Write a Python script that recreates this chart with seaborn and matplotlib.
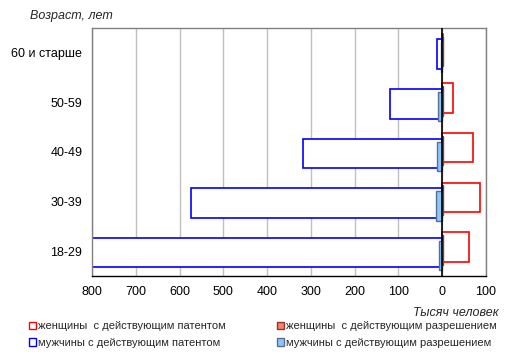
import matplotlib
matplotlib.use("Agg")
import matplotlib.pyplot as plt
from matplotlib.patches import Patch
import seaborn as sns
import pandas as pd
import numpy as np

categories = ['60 и старше', '50-59', '40-49', '30-39', '18-29']
women_patent = [2, 25, 71, 87, 62]
women_permit = [2, 2, 2, 2, 2]
men_patent = [12, 119, 318, 574, 830]
men_permit = [3, 10, 11, 15, 7]
x_ticks = [-800, -700, -600, -500, -400, -300, -200, -100, 0, 100]
x_tick_labels = ['800', '700', '600', '500', '400', '300', '200', '100', '0', '100']

labels = ['женщины  с действующим патентом', 'женщины  с действующим разрешением',
          'мужчины с действующим патентом', 'мужчины с действующим разрешением']

sns.set_theme(style="white")
plt.rcParams['font.family'] = ['Liberation Sans', 'DejaVu Sans']

fig = plt.figure(figsize=(5.12, 3.55), dpi=100)
ax = fig.add_axes([92/512, 1-276/355, (486-92)/512, (276-28)/355])

series = [
    (women_patent, 1, 'white', '#FF0000', 1.2, -0.087),
    (women_permit, 1, '#FF7F6F', '#8B3A2A', 1.0, -0.029),
    (men_patent, -1, 'white', '#0000FF', 1.2, 0.029),
    (men_permit, -1, '#8CC6FA', '#5A6E8F', 1.0, 0.087),
]
idx = np.arange(len(categories))
for vals, sign, fc, ec, lw, off in series:
    df = pd.DataFrame({'pos': idx + off, 'val': sign * np.array(vals, dtype=float)})
    sns.barplot(data=df, x='val', y='pos', orient='h', native_scale=True,
                width=0.595, color=fc, edgecolor=ec, linewidth=lw,
                saturation=1, errorbar=None, ax=ax)
    for p in ax.patches[-len(vals):]:
        p.set_facecolor(fc)
        p.set_edgecolor(ec)

ax.set_xlim(-800, 100)
ax.set_ylim(4.5, -0.5)
ax.set_xticks(x_ticks)
ax.set_xticklabels(x_tick_labels, fontsize=9)
ax.set_yticks(idx)
ax.set_yticklabels(categories, fontsize=9)
ax.tick_params(axis='both', length=0, pad=7, colors='black')
ax.set_xlabel('')
ax.set_ylabel('')
ax.grid(axis='x', color='#C0C0C0', linewidth=1)
ax.set_axisbelow(True)
for s in ['left', 'top', 'right']:
    ax.spines[s].set_color('#808080')
    ax.spines[s].set_linewidth(1)
ax.spines['bottom'].set_color('black')
ax.spines['bottom'].set_linewidth(1)
ax.axvline(0, color='black', linewidth=1.2, zorder=5)

fig.text(30/512, 1-16/355, 'Возраст, лет', fontsize=9, style='italic', va='center', ha='left')
fig.text(499/512, 1-313/355, 'Тысяч человек', fontsize=9, style='italic', va='center', ha='right')

h_wp = Patch(facecolor='white', edgecolor='#FF0000', linewidth=1)
h_wr = Patch(facecolor='#FF7F6F', edgecolor='#8B3A2A', linewidth=1)
h_mp = Patch(facecolor='white', edgecolor='#0000FF', linewidth=1)
h_mr = Patch(facecolor='#8CC6FA', edgecolor='#5A6E8F', linewidth=1)
common = dict(frameon=False, fontsize=8, handlelength=0.6, handleheight=0.6,
              handletextpad=0.2, labelspacing=0.62, borderpad=0, borderaxespad=0, loc='upper left')
leg1 = fig.legend([h_wp, h_mp], [labels[0], labels[2]], bbox_to_anchor=(29/512, 1-321/355), **common)
leg2 = fig.legend([h_wr, h_mr], [labels[1], labels[3]], bbox_to_anchor=(277/512, 1-321/355), **common)

fig.savefig('out.png', dpi=100)
